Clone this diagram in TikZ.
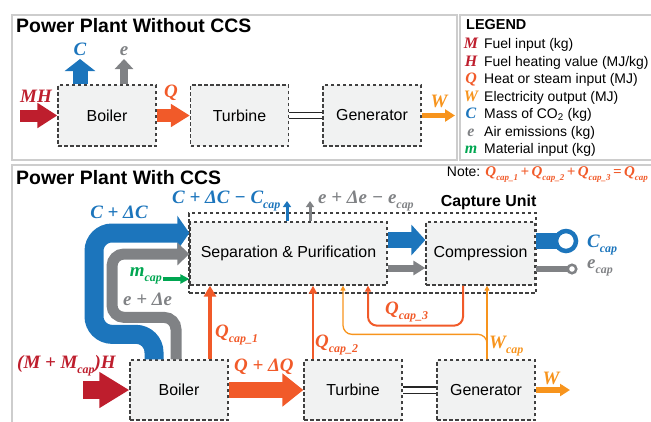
\documentclass[tikz,border=0pt]{standalone}
\usepackage{fontspec}
\setmainfont{Liberation Serif}
\setsansfont{Liberation Sans}
\usetikzlibrary{arrows.meta,calc}
\definecolor{mhred}{HTML}{BE1E2D}
\definecolor{qorange}{HTML}{F15A29}
\definecolor{worange}{HTML}{F7941D}
\definecolor{cblue}{HTML}{1C75BC}
\definecolor{egray}{HTML}{808285}
\definecolor{mgreen}{HTML}{00A651}
\definecolor{boxfill}{HTML}{F1F2F2}
\definecolor{boxline}{HTML}{404040}
\definecolor{panelgray}{HTML}{CDCDCD}
\newcommand{\subx}[2][12]{\raisebox{-0.3em}{\fontsize{#1}{#1}\selectfont #2}}

\begin{document}
\begin{tikzpicture}[x=1bp,y=-1bp,
	procbox/.style={draw=boxline,dash pattern=on 3.5bp off 2.5bp,line width=1.3bp,fill=boxfill,minimum width=98bp,minimum height=61bp,inner sep=0pt,font=\sffamily\fontsize{16}{16}\selectfont},
	capbox/.style={draw=boxline,dash pattern=on 3.5bp off 2.5bp,line width=1.3bp,minimum width=347bp,minimum height=80bp,inner sep=0pt},
	panel/.style={draw=panelgray,line width=1.3bp},
	title/.style={font=\sffamily\bfseries\fontsize{19.5}{19.5}\selectfont,inner sep=0pt,anchor=base west},
	unitlbl/.style={font=\sffamily\bfseries\fontsize{16}{16}\selectfont,inner sep=0pt},
	lbl/.style={font=\bfseries\itshape\fontsize{19}{19}\selectfont,inner sep=0pt},
	legsym/.style={font=\bfseries\itshape\fontsize{16}{16}\selectfont,inner sep=0pt},
	legtxt/.style={font=\sffamily\fontsize{14}{14}\selectfont,inner sep=0pt},
	barrow/.style n args={4}{draw=#1,line width=#2,-{Triangle[length=#3,width=#4]}},
	band/.style n args={5}{draw=#1,line width=#2,rounded corners=#3,-{Triangle[length=#4,width=#5]}},
	shaftline/.style={draw=black!85,line width=1.1bp,double=white,double distance=5bp},
	ring/.style={circle,fill=white,inner sep=0pt}]
	\useasboundingbox (0,0) rectangle (651,421);

	% panels
	\draw[panel] (12,15) rectangle (457,160);
	\draw[panel] (460,15) rectangle (660,160);
	\draw[panel] (12,165) rectangle (660,430);
	\node[title] (tNo) at (16,32) {Power Plant Without CCS};
	\node[title] (tWith) at (16,184) {Power Plant With CCS};

	% legend
	\node[font=\sffamily\bfseries\fontsize{14.5}{14.5}\selectfont,inner sep=0pt,anchor=base west] (lgT) at (466,29) {LEGEND};
	\foreach \sym/\col/\txt [count=\i] in {M/mhred/{Fuel input (kg)},H/mhred/{Fuel heating value (MJ/kg)},Q/qorange/{Heat or steam input (MJ)},W/worange/{Electricity output (MJ)},C/cblue/{Mass of CO\textsubscript{2} (kg)},e/egray/{Air emissions (kg)},m/mgreen/{Material input (kg)}}
	{
		\node[legsym,text=\col,anchor=base] (lgS\i) at (471,31+17.5*\i) {\sym};
		\node[legtxt,anchor=base west] (lgX\i) at (484,31+17.5*\i) {\txt};
	}

	% plant without CCS
	\node[procbox] (bA) at (107,115.5) {Boiler};
	\node[procbox] (tA) at (239.5,115.5) {Turbine};
	\node[procbox] (gA) at (372,115.5) {Generator};

	\coordinate (mhA) at (20,115.5);
	\coordinate (wA) at (455,115.5);
	\coordinate (cA) at (80,59);
	\coordinate (eA) at (124,59);
	\draw[barrow={mhred}{12bp}{20bp}{24bp}] (mhA) -- (bA);
	\draw[barrow={qorange}{13bp}{19bp}{22bp}] (bA) -- (tA);
	\draw[shaftline] (tA) -- (gA);
	\draw[barrow={worange}{5bp}{10bp}{12bp}] (gA) -- (wA);
	\draw[barrow={cblue}{15bp}{12bp}{30bp}] (cA |- bA.north) -- (cA);
	\draw[barrow={egray}{8bp}{10bp}{18bp}] (eA |- bA.north) -- (eA);

	\node[lbl,text=mhred,anchor=base west] (lMHA) at (20,102) {MH};
	\node[lbl,text=qorange,anchor=base] (lQA) at (171,97) {Q};
	\node[lbl,text=cblue,anchor=base] (lCA) at (80,55) {C};
	\node[lbl,text=egray,anchor=base] (lEA) at (124,55) {e};
	\node[lbl,text=worange,anchor=base] (lWA) at (439,107) {W};

	% plant with CCS
	\node[capbox] (uB) at (362.5,253) {};
	\node[procbox,minimum width=197bp,minimum height=63bp] (sB) at (288.5,253.5) {Separation \& Purification};
	\node[procbox,minimum width=109bp,minimum height=63bp] (cB) at (480.5,253.5) {Compression};
	\node[unitlbl,anchor=south east] (lU) at ([yshift=2bp]uB.north east) {Capture Unit};

	\node[procbox,minimum height=60bp] (bB) at (179,390) {Boiler};
	\node[procbox,minimum height=60bp] (tB) at (353,390) {Turbine};
	\node[procbox,minimum height=60bp] (gB) at (486,390) {Generator};

	% flue gas bands into the capture unit
	\draw[band={cblue}{19bp}{18bp}{12bp}{34bp}] ([xshift=-25bp]bB.north) -- ++(0,-25) -| (94,233) -- (sB.west |- 94,233);
	\draw[band={egray}{11bp}{12bp}{12bp}{22bp}] ([xshift=-3bp]bB.north) -- ++(0,-42) -| (112,254) -- (sB.west |- 112,254);

	\coordinate (mcB) at (163,279);
	\coordinate (cTop) at (287,201);
	\coordinate (eTop) at (310,201);
	\draw[barrow={mgreen}{3.5bp}{9bp}{9bp}] (mcB) -- (mcB -| sB.west);
	\draw[barrow={cblue}{3bp}{6bp}{8bp}] (cTop |- sB.north) -- (cTop);
	\draw[barrow={egray}{3bp}{6bp}{8bp}] (eTop |- sB.north) -- (eTop);
	\draw[barrow={cblue}{16bp}{14bp}{30bp}] ([yshift=13.5bp]sB.east) -- ([yshift=13.5bp]cB.west);
	\draw[barrow={egray}{7bp}{12bp}{14bp}] ([yshift=-14.5bp]sB.east) -- ([yshift=-14.5bp]cB.west);

	% captured streams
	\coordinate (cOutC) at (566,241);
	\coordinate (eOutC) at (572,269);
	\draw[cblue,line width=16bp] (cOutC -| cB.east) -- (cOutC);
	\node[ring,draw=cblue,line width=4.5bp,minimum size=20bp] (cOut) at (cOutC) {};
	\draw[egray,line width=6bp] (eOutC -| cB.east) -- (eOutC);
	\node[ring,draw=egray,line width=2.5bp,minimum size=8.5bp] (eOut) at (eOutC) {};

	% main train
	\coordinate (mhB) at (83,390);
	\coordinate (wB) at (570,390);
	\draw[barrow={mhred}{18bp}{30bp}{34bp}] (mhB) -- (bB);
	\draw[barrow={qorange}{16bp}{21bp}{32bp}] (bB) -- (tB);
	\draw[shaftline] (tB) -- (gB);
	\draw[barrow={worange}{6bp}{10bp}{12bp}] (gB) -- (wB);

	% energy for capture
	\coordinate (q1) at ([xshift=31bp]bB.north);
	\coordinate (q2) at ([xshift=-40bp]tB.north);
	\coordinate (wc) at ([xshift=1bp]gB.north);
	\draw[barrow={qorange}{4.5bp}{11bp}{12bp}] (q1) -- (q1 |- sB.south);
	\draw[barrow={qorange}{2.5bp}{8bp}{8bp}] (q2) -- (q2 |- sB.south);
	\draw[barrow={qorange}{2bp}{6bp}{6bp},rounded corners=9bp] ([xshift=-17.5bp]cB.south) -- ++(0,40) -| ([xshift=79.5bp]sB.south);
	\draw[barrow={worange}{1.3bp}{5bp}{5bp}] (wc) -- (wc |- cB.south);
	\draw[barrow={worange}{1.3bp}{5bp}{5bp},rounded corners=9bp] (wc) -- ++(0,-25) -| ([xshift=54.5bp]sB.south);

	% labels
	\node[lbl,text=cblue,anchor=base] (lCB) at (119,218) {C + ΔC};
	\node[lbl,text=cblue,anchor=base west] (lCsep) at (172,203) {C + ΔC − C\subx{cap}};
	\node[lbl,text=egray,anchor=base west] (lEsep) at (318,203) {e + Δe − e\subx{cap}};
	\node[lbl,text=mgreen,anchor=base east] (lMc) at (162,276) {m\subx{cap}};
	\node[lbl,text=egray,anchor=base west] (lEB) at (123,305) {e + Δe};
	\node[lbl,text=mhred,anchor=base west] (lMHB) at (17,368) {(M + M\subx{cap})H};
	\node[lbl,text=qorange,anchor=base west] (lQB) at (234,371) {Q + ΔQ};
	\node[lbl,text=worange,anchor=base] (lWB) at (551,384) {W};
	\node[lbl,text=qorange,anchor=base west] (lQ1) at (215,337) {Q\subx{cap\_1}};
	\node[lbl,text=qorange,anchor=base west] (lQ2) at (315,347) {Q\subx{cap\_2}};
	\node[lbl,text=qorange,anchor=base west] (lQ3) at (385,314) {Q\subx{cap\_3}};
	\node[lbl,text=worange,anchor=base west] (lWc) at (489,348) {W\subx{cap}};
	\node[lbl,text=cblue,anchor=base west] (lCc) at (587,247) {C\subx{cap}};
	\node[lbl,text=egray,anchor=base west] (lEc) at (587,268) {e\subx{cap}};
	\node[anchor=base east,inner sep=0pt,font=\sffamily\fontsize{14}{14}\selectfont] (lNote) at (648,176) {Note: \textcolor{qorange}{\rmfamily\bfseries\itshape\fontsize{15}{15}\selectfont Q\subx[9]{cap\_1}\,+\,Q\subx[9]{cap\_2}\,+\,Q\subx[9]{cap\_3}\,=\,Q\subx[9]{cap}}};
\end{tikzpicture}
\end{document}
